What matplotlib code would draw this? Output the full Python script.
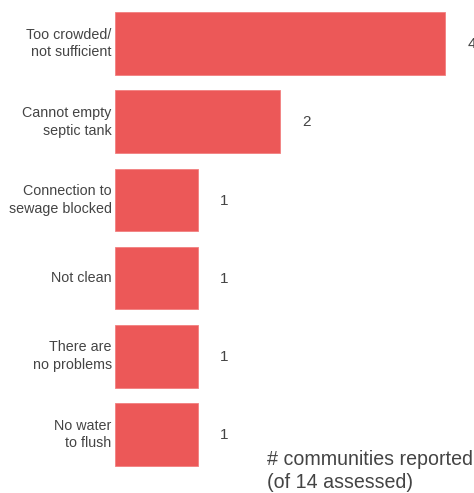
import matplotlib
matplotlib.use('Agg')
import matplotlib.pyplot as plt

plt.rcParams['font.family'] = ['Liberation Sans', 'DejaVu Sans']

categories = ['Too crowded/\nnot sufficient', 'Cannot empty\nseptic tank',
              'Connection to\nsewage blocked', 'Not clean',
              'There are\nno problems', 'No water\nto flush']
counts = [4, 2, 1, 1, 1, 1]

fig = plt.figure(figsize=(4.74, 4.93), dpi=100)
ax = fig.add_axes([115 / 474, 0, 359 / 474, 1])

pos = list(range(len(categories)))
ax.barh(pos, counts, height=0.8, color='#EC5858', edgecolor='#F27F7F', linewidth=0.6)
ax.set_xlim(0, 359 / 82.6)
ax.set_ylim((493 - 43.5) / 78.2, -43.5 / 78.2)

for p, c in zip(pos, counts):
    ax.text(c + 0.32, p + 0.01, str(c), va='center', ha='center', fontsize=11,
            color='#444444', clip_on=False)
    ax.text(-0.04, p, categories[p], va='center', ha='right', fontsize=10.3,
            color='#444444', linespacing=1.35, clip_on=False)

ax.set_xticks([])
ax.set_yticks([])
for s in ax.spines.values():
    s.set_visible(False)

fig.text(267 / 474, 1 - 471 / 493, '# communities reported\n(of 14 assessed)',
         ha='left', va='center', fontsize=14.1, color='#444444', linespacing=1.25)

fig.savefig('out.png', dpi=100)
